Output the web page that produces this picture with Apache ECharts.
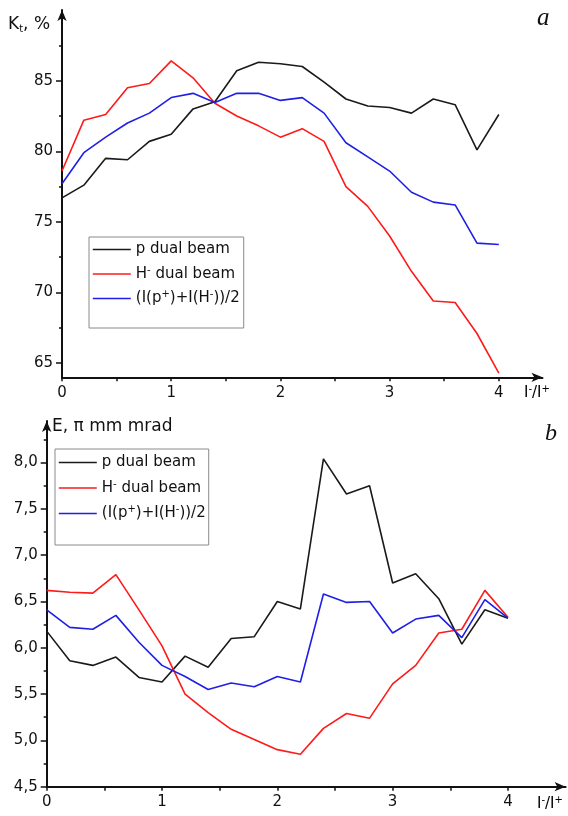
<!DOCTYPE html>
<html>
<head>
<meta charset="utf-8">
<script src="https://cdn.jsdelivr.net/npm/echarts@6/dist/echarts.min.js"></script>
<style>
  html, body { margin: 0; padding: 0; background: #fff; }
  #chart { width: 568px; height: 816px; }
</style>
</head>
<body>
<div id="chart"></div>
<script>
// I-/I+ ratio, same for both panels
var ratio = [0, 0.2, 0.4, 0.6, 0.8, 1.0, 1.2, 1.4, 1.6, 1.8, 2.0, 2.2, 2.4, 2.6, 2.8, 3.0, 3.2, 3.4, 3.6, 3.8, 4.0];

// panel a : Kt, %
var ktProton = [76.7, 77.6, 79.5, 79.4, 80.7, 81.2, 83.0, 83.5, 85.7, 86.3, 86.2, 86.0, 84.9, 83.7, 83.2, 83.1, 82.7, 83.7, 83.3, 80.1, 82.6];
var ktHminus = [78.6, 82.2, 82.6, 84.5, 84.8, 86.4, 85.2, 83.4, 82.5, 81.8, 81.0, 81.6, 80.7, 77.5, 76.1, 74.0, 71.5, 69.4, 69.3, 67.1, 64.3];
var ktMean = [77.7, 79.9, 81.0, 82.0, 82.7, 83.8, 84.1, 83.45, 84.1, 84.1, 83.6, 83.8, 82.7, 80.6, 79.6, 78.6, 77.1, 76.4, 76.2, 73.5, 73.4];

// panel b : E, pi mm mrad
var emProton = [6.18, 5.86, 5.81, 5.90, 5.68, 5.63, 5.91, 5.79, 6.10, 6.12, 6.50, 6.42, 8.04, 7.66, 7.75, 6.70, 6.80, 6.53, 6.04, 6.41, 6.32];
var emHminus = [6.62, 6.60, 6.59, 6.79, 6.41, 6.02, 5.50, 5.30, 5.12, 5.01, 4.90, 4.85, 5.13, 5.29, 5.24, 5.61, 5.81, 6.16, 6.20, 6.62, 6.33];
var emMean = [6.41, 6.22, 6.20, 6.35, 6.06, 5.81, 5.69, 5.55, 5.62, 5.58, 5.69, 5.63, 6.58, 6.49, 6.50, 6.16, 6.31, 6.35, 6.11, 6.52, 6.32];

// tick labels
var xLabels = [0, 1, 2, 3, 4];
var xTicks = [0, 0.5, 1, 1.5, 2, 2.5, 3, 3.5, 4];
var ktLabels = [65, 70, 75, 80, 85];
var ktMinor = [67.5, 72.5, 77.5, 82.5, 87.5];
var emLabels = [4.5, 5.0, 5.5, 6.0, 6.5, 7.0, 7.5, 8.0];
var emMinor = [4.75, 5.25, 5.75, 6.25, 6.75, 7.25, 7.75, 8.25];

var names = ['p dual beam', 'H- dual beam', '(I(p+)+I(H-))/2'];
// same names written with rich superscripts for the legend
var richNames = {
  'p dual beam': '{n|p dual beam}',
  'H- dual beam': '{n|H}{sup|-}{n| dual beam}',
  '(I(p+)+I(H-))/2': '{n|(I(p}{sup|+}{n|)+I(H}{sup|-}{n|))/2}'
};
var colors = ['#1a1a1a', '#ff1a1a', '#1f1fe6'];

var FONT = 'DejaVu Sans';
var richText = {
  n: { fontFamily: FONT, fontSize: 15, lineHeight: 18, color: '#111', verticalAlign: 'middle' },
  sup: { fontFamily: FONT, fontSize: 10, lineHeight: 8, color: '#111', verticalAlign: 'top' }
};

function pairs(ys) {
  return ratio.map(function (x, i) { return [x, ys[i]]; });
}

function lineSeries(name, color, ys, idx) {
  return {
    name: name,
    type: 'line',
    xAxisIndex: idx,
    yAxisIndex: idx * 2,
    data: pairs(ys),
    symbol: 'none',
    lineStyle: { color: color, width: 1.6 },
    itemStyle: { color: color },
    animation: false
  };
}

function xAxisOf(idx, max) {
  return {
    type: 'value', gridIndex: idx, min: 0, max: max,
    axisLine: { lineStyle: { color: '#111', width: 2 }, symbol: ['none', 'arrow'], symbolSize: [7, 11] },
    axisTick: { length: 4, inside: false, lineStyle: { color: '#111', width: 1.5 }, customValues: xTicks },
    axisLabel: { customValues: xLabels, margin: 8, fontFamily: FONT, fontSize: 15, color: '#111' },
    splitLine: { show: false }
  };
}

function yAxisOf(idx, min, max, labels, fmt) {
  return {
    type: 'value', gridIndex: idx, position: 'left', min: min, max: max,
    axisLine: { lineStyle: { color: '#111', width: 2 }, symbol: ['none', 'arrow'], symbolSize: [7, 11] },
    axisTick: { length: 6, lineStyle: { color: '#111', width: 1.5 }, customValues: labels },
    axisLabel: { customValues: labels, margin: 9, fontFamily: FONT, fontSize: 15, color: '#111', formatter: fmt },
    splitLine: { show: false }
  };
}

// second axis on the same spot, only for the short half-step ticks
function minorAxisOf(idx, min, max, ticks) {
  return {
    type: 'value', gridIndex: idx, position: 'left', min: min, max: max,
    axisLine: { show: false },
    axisTick: { length: 3, lineStyle: { color: '#111', width: 1.5 }, customValues: ticks },
    axisLabel: { show: false },
    splitLine: { show: false }
  };
}

function legendAt(left, top, gap, pad) {
  return {
    left: left, top: top, orient: 'vertical',
    itemWidth: 38, itemHeight: 14, itemGap: gap, padding: pad,
    borderColor: '#8a8a8a', borderWidth: 1,
    itemStyle: { opacity: 0 },
    lineStyle: { width: 1.6 },
    formatter: function (name) { return richNames[name]; },
    textStyle: { fontFamily: FONT, fontSize: 15, color: '#111', rich: richText },
    data: names
  };
}

var chart = echarts.init(document.getElementById('chart'), null, { renderer: 'canvas' });

var option = {
  backgroundColor: '#fff',
  animation: false,
  grid: [
    { left: 62, right: 25.5, top: 10, height: 367.3 },
    { left: 46.7, right: 2.4, top: 420.9, height: 365.8 }
  ],
  xAxis: [xAxisOf(0, 4.4), xAxisOf(1, 4.5)],
  yAxis: [
    yAxisOf(0, 64, 90, ktLabels, function (v) { return String(v); }),
    minorAxisOf(0, 64, 90, ktMinor),
    yAxisOf(1, 4.5, 8.45, emLabels, function (v) { return v.toFixed(1).replace('.', ','); }),
    minorAxisOf(1, 4.5, 8.45, emMinor)
  ],
  legend: [
    legendAt(89, 237, 8, [5, 4, 22, 3]),
    legendAt(55, 449, 9, [6, 3, 24, 3])
  ],
  series: [
    lineSeries(names[0], colors[0], ktProton, 0),
    lineSeries(names[1], colors[1], ktHminus, 0),
    lineSeries(names[2], colors[2], ktMean, 0),
    lineSeries(names[0], colors[0], emProton, 1),
    lineSeries(names[1], colors[1], emHminus, 1),
    lineSeries(names[2], colors[2], emMean, 1)
  ],
  graphic: [
    {
      type: 'text', left: 8, top: 16,
      style: {
        text: '{k|K}{s|t}{k|, %}',
        rich: {
          k: { fontFamily: FONT, fontSize: 17, lineHeight: 20, fill: '#111', verticalAlign: 'middle' },
          s: { fontFamily: FONT, fontSize: 10, lineHeight: 10, fill: '#111', verticalAlign: 'bottom' }
        }
      }
    },
    {
      type: 'text', left: 52, top: 418,
      style: { text: 'E, \u03C0 mm mrad', fontFamily: FONT, fontSize: 17, fill: '#111' }
    },
    {
      type: 'text', left: 524, top: 384,
      style: { text: '{n|I}{sup|-}{n|/I}{sup|+}', rich: richText }
    },
    {
      type: 'text', left: 537, top: 795,
      style: { text: '{n|I}{sup|-}{n|/I}{sup|+}', rich: richText }
    },
    {
      type: 'text', left: 537, top: 6,
      style: { text: 'a', fontFamily: 'Liberation Serif', fontStyle: 'italic', fontSize: 25, fill: '#111' }
    },
    {
      type: 'text', left: 545, top: 422,
      style: { text: 'b', fontFamily: 'Liberation Serif', fontStyle: 'italic', fontSize: 24, fill: '#111' }
    }
  ]
};

chart.setOption(option);
</script>
</body>
</html>
